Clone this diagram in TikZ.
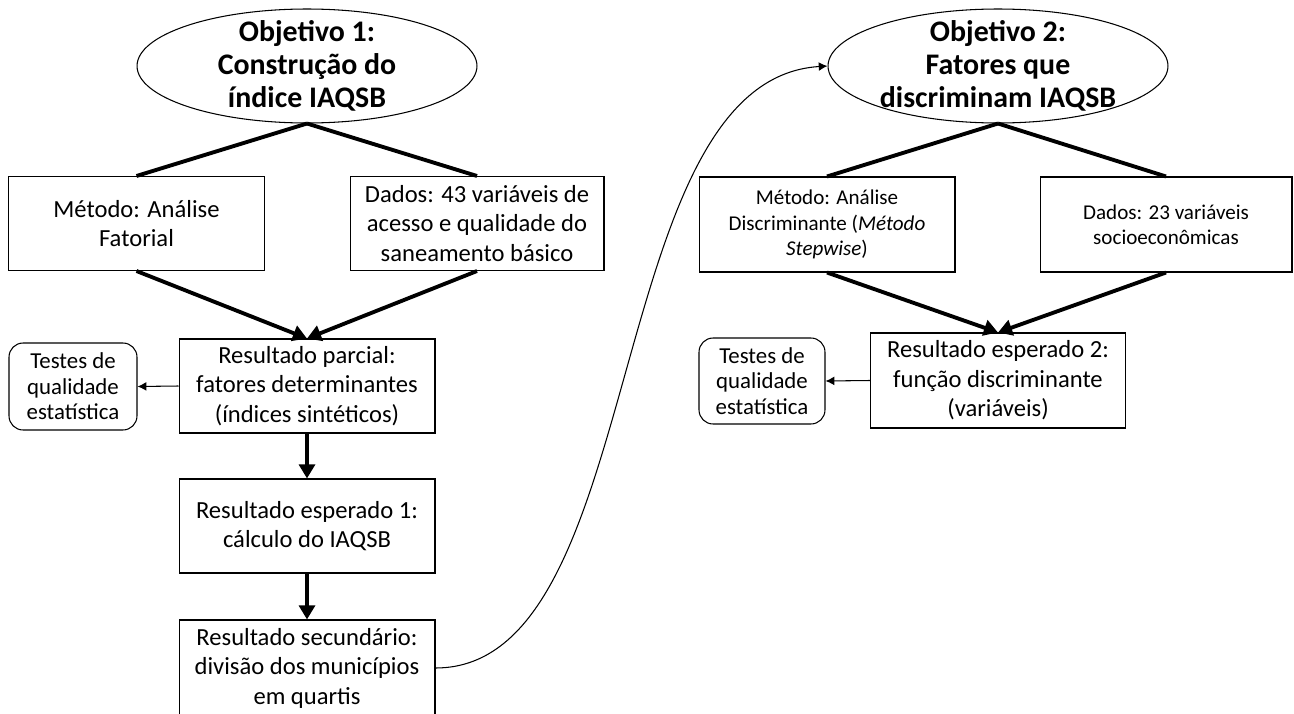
\documentclass[tikz,border=0pt]{standalone}
\usepackage{fontspec}
\setmainfont{Carlito}
\usetikzlibrary{shapes.geometric,arrows.meta,positioning}

\begin{document}
\begin{tikzpicture}[x=0.02cm,y=-0.02cm,
  caixa/.style={draw,line width=0.6pt,align=center,inner sep=2pt,minimum width=5.12cm,minimum height=1.88cm,font=\fontsize{14}{16.8}\selectfont},
  caixap/.style={caixa,font=\fontsize{12}{14.3}\selectfont},
  objetivo/.style={draw,ellipse,line width=0.6pt,align=center,inner xsep=0pt,inner ysep=-8pt,minimum width=6.8cm,minimum height=2.28cm,font=\fontsize{17}{18.8}\selectfont\bfseries},
  teste/.style={draw,rounded corners=8pt,line width=0.6pt,align=center,minimum width=2.56cm,minimum height=1.74cm,font=\fontsize{13}{14.5}\selectfont},
  liga/.style={line width=2.2pt},
  seta/.style={line width=2.2pt,-{Triangle[length=8pt,width=9pt]}}]
  \useasboundingbox (0,0) rectangle (1294,713);

  % objetivo 1
  \node[objetivo] (obj1) at (307,66) {Objetivo 1:\\Construção do\\índice IAQSB};
  \node[caixa] (met1) at (136.5,223.5) {Método: Análise\\Fatorial};
  \node[caixa,minimum width=5.08cm] (dad1) at (477,223.5) {Dados: 43 variáveis de\\acesso e qualidade do\\saneamento básico};
  \node[caixa] (par1) at (307,386) {Resultado parcial:\\fatores determinantes\\(índices sintéticos)};
  \node[teste] (tst1) at (73,386.5) {Testes de\\qualidade\\estatística};
  \node[caixa] (esp1) at (307,526) {Resultado esperado 1:\\cálculo do IAQSB};
  \node[caixa,minimum height=1.92cm] (sec1) at (307,668) {Resultado secundário:\\divisão dos municípios\\em quartis};

  \draw[liga] (obj1.south) -- (met1.north);
  \draw[liga] (obj1.south) -- (dad1.north);
  \draw[seta] (met1.south) -- (par1.north);
  \draw[seta] (dad1.south) -- (par1.north);
  \draw[line width=0.6pt,-{Latex[length=5pt,width=5pt]}] (par1.west) -- (tst1.east);
  \draw[seta] (par1.south) -- (esp1.north);
  \draw[seta] (esp1.south) -- (sec1.north);

  % objetivo 2
  \node[objetivo] (obj2) at (998,66) {Objetivo 2:\\Fatores que\\discriminam IAQSB};
  \node[caixap,minimum height=1.9cm] (met2) at (827,224.5) {Método: Análise\\Discriminante (\textit{Método}\\\textit{Stepwise})};
  \node[caixap,minimum width=5.04cm,minimum height=1.9cm] (dad2) at (1166,224.5) {Dados: 23 variáveis\\socioeconômicas};
  \node[caixa,minimum width=5.1cm,minimum height=1.9cm] (esp2) at (998,380.5) {Resultado esperado 2:\\função discriminante\\(variáveis)};
  \node[teste,minimum width=2.52cm,minimum height=1.72cm] (tst2) at (762,381) {Testes de\\qualidade\\estatística};

  \draw[liga] (obj2.south) -- (met2.north);
  \draw[liga] (obj2.south) -- (dad2.north);
  \draw[seta] (met2.south) -- (esp2.north);
  \draw[seta] (dad2.south) -- (esp2.north);
  \draw[line width=0.6pt,-{Latex[length=5pt,width=5pt]}] (esp2.west) -- (tst2.east);

  % ligacao entre objetivos
  \draw[line width=0.6pt,-{Latex[length=5pt,width=5pt]}] (sec1.east) .. controls (650,668) and (600,80) .. (obj2.west);
\end{tikzpicture}
\end{document}
